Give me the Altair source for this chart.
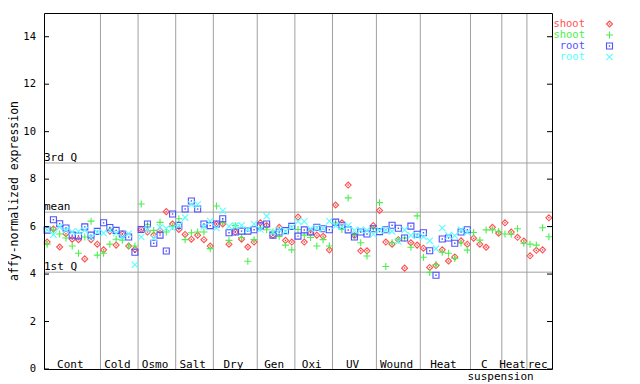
import altair as alt
import pandas as pd

# ---------------- data ----------------
conditions = ["Cont", "Cold", "Osmo", "Salt", "Dry", "Gen", "Oxi", "UV",
              "Wound", "Heat", "C", "Heat", "rec"]
cond_sizes = [9, 6, 6, 6, 7, 6, 6, 7, 7, 8, 5, 4, 4]
extra_label = "suspension"
extra_label_pos = 72.8

shoot_1 = [5.35, 5.90, 5.14, 5.70, 5.47, 5.45, 4.64, 5.45, 5.26,
           5.02, 5.81, 5.22, 5.69, 5.18, 5.04,
           5.88, 5.77, 5.64, 5.84, 6.63, 6.11,
           5.88, 5.67, 5.47, 5.64, 5.45, 5.18,
           6.11, 6.11, 5.26, 5.77, 5.47, 5.14, 5.35,
           6.16, 6.05, 5.64, 5.97, 5.42, 5.35,
           6.40, 5.35, 5.74, 5.64, 5.59, 5.02,
           6.91, 6.16, 7.75, 5.62, 4.98, 4.98, 6.04,
           6.68, 5.35, 5.26, 5.45, 4.25, 5.32, 5.22,
           5.09, 4.28, 4.36, 5.02, 4.55, 4.72, 5.40, 5.26,
           5.51, 5.26, 5.13, 5.97, 5.72,
           6.16, 5.77, 5.55, 5.39,
           4.77, 5.00, 5.02, 6.37]
shoot_2 = [5.26, 5.86, 5.69, 5.52, 5.18, 4.88, 5.56, 6.23, 4.80,
           4.88, 5.26, 5.47, 5.43, 5.18, 5.18,
           6.95, 6.08, 5.84, 6.18, 5.77, 6.00,
           6.33, 5.45, 5.74, 5.77, 5.77, 5.07,
           6.87, 6.18, 5.42, 6.04, 5.54, 4.54, 5.45,
           5.95, 5.87, 5.77, 5.59, 5.22, 5.02,
           5.88, 5.64, 5.54, 5.18, 5.45, 5.18,
           6.15, 5.88, 7.21, 5.62, 5.32, 4.76, 5.92,
           7.01, 4.32, 5.32, 5.45, 5.52, 5.13, 6.45,
           4.71, 4.07, 4.40, 4.92, 4.88, 4.66, 5.31, 5.01,
           5.75, 5.43, 5.86, 5.86, 5.79,
           5.69, 5.68, 5.91, 5.30,
           5.26, 5.22, 5.95, 5.57]
root_1 = [5.85, 6.29, 6.12, 5.94, 5.64, 5.61, 5.99, 5.64, 5.80,
          6.16, 5.96, 5.84, 5.69, 5.56, 4.92,
          5.88, 6.11, 5.30, 5.64, 4.97, 6.53,
          6.05, 6.74, 7.08, 6.74, 6.11, 6.04,
          6.11, 6.33, 5.74, 5.77, 5.81, 5.81, 5.87,
          6.03, 6.11, 5.64, 5.77, 5.83, 6.01,
          5.60, 5.86, 5.77, 5.97, 5.91, 5.87,
          6.19, 6.06, 5.86, 5.56, 5.77, 5.69, 5.91,
          5.79, 5.87, 6.06, 5.93, 5.52, 6.02, 5.68,
          5.74, 4.98, 3.95, 5.48, 5.52, 5.30, 5.77, 5.87]
root_2 = [5.87, 5.66, 5.98, 5.85, 5.78, 5.80, 5.85, 5.55, 5.76,
          5.73, 5.86, 5.73, 5.54, 5.70, 4.39,
          5.56, 5.87, 5.51, 5.97, 5.92, 5.94,
          6.05, 6.38, 6.93, 6.93, 6.01, 6.23,
          5.94, 6.67, 6.01, 6.04, 6.05, 5.88, 6.11,
          5.88, 6.44, 5.77, 5.87, 5.80, 5.97,
          6.22, 6.22, 5.91, 5.94, 5.92, 6.23,
          6.04, 6.00, 6.04, 5.84, 5.86, 5.84, 5.68,
          5.85, 5.86, 5.80, 5.37, 5.86, 5.63, 5.62,
          5.57, 5.40, 5.07, 5.94, 5.63, 5.62, 5.86, 5.76]

series_values = [shoot_1, shoot_2, root_1, root_2]
series_labels = ["shoot", "shoot", "root", "root"]
series_colors = ["#ff5050", "#4cf04c", "#5050ff", "#55ffff"]

quart_names = ["3rd Q", "mean", "1st Q"]
quart_values = [8.68, 6.61, 4.08]
y_tick_values = [0, 2, 4, 6, 8, 10, 12, 14]
y_title = "affy-normalized expression"

# ---------------- layout ----------------
FONT = "DejaVu Sans Mono"
W, H = 508, 356
GRID = "#a0a0a0"

bounds = []
acc = 0
for n in cond_sizes:
    acc += n
    bounds.append(acc)
n_samples = bounds[-1]
starts = [b - n for b, n in zip(bounds, cond_sizes)]

xs = alt.Scale(domain=[0, n_samples], nice=False, zero=False)
ys = alt.Scale(domain=[0, 15], nice=False, zero=False)

sep_df = pd.DataFrame({"b": bounds[:-1]})
lab_df = pd.DataFrame({"name": conditions,
                       "c": [(s + b) / 2 - 0.3 for s, b in zip(starts, bounds)]})
q_df = pd.DataFrame({"name": quart_names, "q": quart_values})
tick_df = pd.DataFrame({"t": y_tick_values})

layers = []

# vertical separators
layers.append(alt.Chart(sep_df).mark_rule(color=GRID, strokeWidth=1).encode(
    x=alt.X("b:Q", scale=xs, axis=None)))
# quartile lines
layers.append(alt.Chart(q_df).mark_rule(color=GRID, strokeWidth=1).encode(
    y=alt.Y("q:Q", scale=ys, axis=None)))
layers.append(alt.Chart(q_df).mark_text(
    align="left", baseline="alphabetic", dy=-2, font=FONT, fontSize=11, color="black").encode(
    x=alt.value(0), y=alt.Y("q:Q", scale=ys, axis=None), text="name:N"))

# series
shapes = ["diamond", "M-1,0L1,0M0,-1L0,1", "square", "M-1,-1L1,1M1,-1L-1,1"]
sizes = [36, 49, 36, 40]
dots = [True, False, True, False]
for vals, col, shp, sz, dot in zip(series_values, series_colors, shapes, sizes, dots):
    df = pd.DataFrame({"s": [i + 0.5 for i in range(len(vals))], "v": vals})
    layers.append(alt.Chart(df).mark_point(
        shape=shp, filled=False, size=sz, strokeWidth=1.1, color=col, opacity=1).encode(
        x=alt.X("s:Q", scale=xs, axis=None), y=alt.Y("v:Q", scale=ys, axis=None)))
    if dot:
        layers.append(alt.Chart(df).mark_point(
            shape="square", filled=True, size=2, color=col, opacity=1).encode(
            x=alt.X("s:Q", scale=xs, axis=None), y=alt.Y("v:Q", scale=ys, axis=None)))

# category labels
layers.append(alt.Chart(lab_df).mark_text(
    align="center", baseline="middle", font=FONT, fontSize=11, color="black").encode(
    x=alt.X("c:Q", scale=xs, axis=None), y=alt.value(352), text="name:N"))
layers.append(alt.Chart(pd.DataFrame({"name": [extra_label], "c": [extra_label_pos]})).mark_text(
    align="center", baseline="middle", font=FONT, fontSize=11, color="black").encode(
    x=alt.X("c:Q", scale=xs, axis=None), y=alt.value(364), text="name:N"))

# y ticks (inward, both sides) and labels
layers.append(alt.Chart(tick_df).mark_rule(color="black", strokeWidth=1).encode(
    y=alt.Y("t:Q", scale=ys, axis=None), x=alt.value(0), x2=alt.value(5)))
layers.append(alt.Chart(tick_df).mark_rule(color="black", strokeWidth=1).encode(
    y=alt.Y("t:Q", scale=ys, axis=None), x=alt.value(W - 5), x2=alt.value(W)))
layers.append(alt.Chart(tick_df).mark_text(
    align="right", baseline="middle", font=FONT, fontSize=10.5, color="black").encode(
    y=alt.Y("t:Q", scale=ys, axis=None), x=alt.value(-8), text="t:Q"))

# y title
layers.append(alt.Chart(alt.Data(values=[{"t": y_title}])).mark_text(
    angle=270, align="center", baseline="middle", font=FONT, fontSize=11.5, color="black").encode(
    x=alt.value(-29), y=alt.value(H / 2), text="t:N"))

# border
layers.append(alt.Chart(alt.Data(values=[{"a": 1}])).mark_rect(
    filled=False, color="black", strokeWidth=1).encode(
    x=alt.value(0.5), x2=alt.value(W + 0.5), y=alt.value(0.5), y2=alt.value(H + 0.5)))

# legend
for k, (lab, col, shp, sz, dot) in enumerate(zip(series_labels, series_colors, shapes, sizes, dots)):
    ly = 11 + 11 * k
    ldata = alt.Data(values=[{"t": lab}])
    layers.append(alt.Chart(ldata).mark_text(
        align="right", baseline="middle", font=FONT, fontSize=10.5, color=col).encode(
        x=alt.value(541), y=alt.value(ly), text="t:N"))
    layers.append(alt.Chart(ldata).mark_point(
        shape=shp, filled=False, size=sz, strokeWidth=1.1, color=col, opacity=1).encode(
        x=alt.value(565.5), y=alt.value(ly)))
    if dot:
        layers.append(alt.Chart(ldata).mark_point(
            shape="square", filled=True, size=2, color=col, opacity=1).encode(
            x=alt.value(565.5), y=alt.value(ly)))

chart = alt.layer(*layers).properties(
    width=W, height=H,
    autosize="none",
    padding={"left": 36, "top": 5, "right": 80, "bottom": 14},
    background="white",
).configure_view(stroke=None)

chart.save("out.html", embed_options={"renderer": "svg", "actions": False})
